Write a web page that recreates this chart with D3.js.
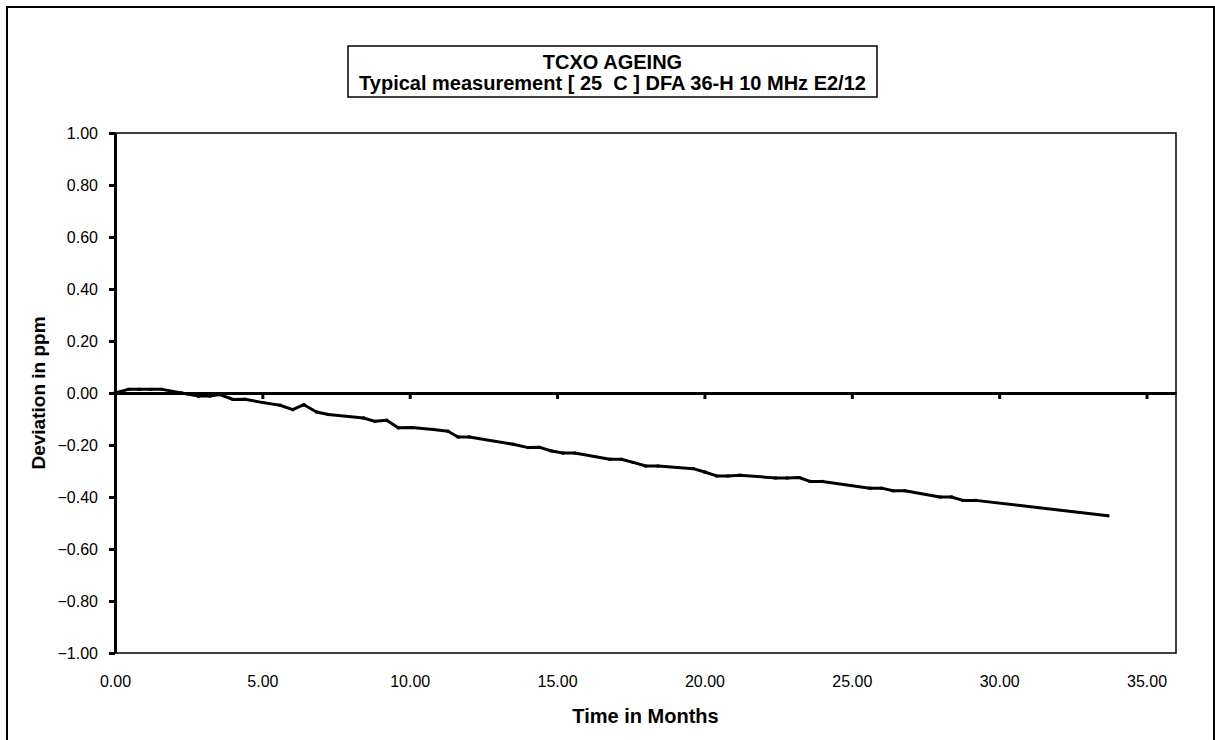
<!DOCTYPE html>
<html>
<head>
<meta charset="utf-8">
<script src="https://cdn.jsdelivr.net/npm/d3@7"></script>
<style>
  html, body { margin: 0; padding: 0; background: #fff; }
  svg { display: block; }
  text { font-family: "Liberation Sans", Arial, sans-serif; fill: #000; }
</style>
</head>
<body>
<svg id="chart" width="1215" height="740"></svg>
<script>
// ---- data ----
const months = [0, 0.45, 0.82, 1.22, 1.6, 2.26, 2.83, 3.22, 3.56, 4.01, 4.41, 5.03, 5.6, 6.03, 6.41, 6.84, 7.24,
  8.43, 8.82, 9.22, 9.61, 10.06, 10.8, 11.3, 11.64, 12.02, 13.51, 14.02, 14.41, 14.81, 15.2, 15.6, 16.79, 17.18,
  17.58, 18.01, 18.43, 19.62, 20.01, 20.41, 20.8, 21.2, 22.42, 22.81, 23.21, 23.58, 24.0, 25.61, 26.01, 26.4,
  26.8, 27.99, 28.38, 28.77, 29.2, 33.69];
const deviation = [0, 0.014, 0.014, 0.014, 0.014, 0, -0.012, -0.012, -0.006, -0.025, -0.024, -0.037, -0.047,
  -0.064, -0.045, -0.073, -0.083, -0.096, -0.109, -0.105, -0.134, -0.133, -0.14, -0.147, -0.169, -0.169, -0.197,
  -0.21, -0.209, -0.223, -0.231, -0.231, -0.255, -0.255, -0.267, -0.281, -0.281, -0.291, -0.304, -0.319, -0.319,
  -0.316, -0.327, -0.327, -0.325, -0.34, -0.34, -0.366, -0.366, -0.376, -0.376, -0.4, -0.4, -0.413, -0.413, -0.472];
const xTicks = [0, 5, 10, 15, 20, 25, 30, 35];
const yTicks = [-1, -0.8, -0.6, -0.4, -0.2, 0, 0.2, 0.4, 0.6, 0.8, 1];
const titleLines = ["TCXO AGEING", "Typical measurement [ 25  C ] DFA 36-H 10 MHz E2/12"];
const xTitle = "Time in Months";
const yTitle = "Deviation in ppm";

const data = months.map((m, i) => ({ x: m, y: deviation[i] }));

const svg = d3.select("#chart");
const plot = { left: 115, right: 1176, top: 133, bottom: 653 };
const FONT = "Liberation Sans, Arial, sans-serif";

// outer chart border
svg.append("rect").attr("x", 7).attr("y", 7).attr("width", 1207).attr("height", 760)
  .attr("fill", "none").attr("stroke", "#000").attr("stroke-width", 2);

const x = d3.scaleLinear().domain([0, 36]).range([plot.left, plot.right]);
const y = d3.scaleLinear().domain([-1, 1]).range([plot.bottom, plot.top]);

// plot area border
svg.append("rect").attr("x", plot.left).attr("y", plot.top)
  .attr("width", plot.right - plot.left).attr("height", plot.bottom - plot.top)
  .attr("fill", "none").attr("stroke", "#000").attr("stroke-width", 1.5);

// x tick labels at the bottom
const xAxisLabels = svg.append("g").attr("transform", `translate(0,${plot.bottom})`)
  .call(d3.axisBottom(x).tickValues(xTicks).tickFormat(d3.format(".2f")).tickSize(0).tickPadding(23));
xAxisLabels.select(".domain").remove();
xAxisLabels.attr("font-size", 16).attr("font-family", FONT);

// x axis crossing at zero with ticks
const xAxisZero = svg.append("g").attr("transform", `translate(0,${y(0)})`)
  .call(d3.axisBottom(x).tickValues(xTicks.filter(d => d > 0)).tickFormat("").tickSizeOuter(0).tickSizeInner(6));
xAxisZero.select(".domain").attr("stroke-width", 3).attr("stroke", "#000");
xAxisZero.selectAll(".tick line").attr("stroke-width", 3).attr("stroke", "#000");

// y axis
const yAxis = svg.append("g").attr("transform", `translate(${plot.left},0)`)
  .call(d3.axisLeft(y).tickValues(yTicks).tickFormat(d3.format(".2f")).tickSizeOuter(0).tickSizeInner(6).tickPadding(11));
yAxis.attr("font-size", 16).attr("font-family", FONT);
yAxis.select(".domain").attr("stroke-width", 3).attr("stroke", "#000");
yAxis.selectAll(".tick line").attr("stroke-width", 3).attr("stroke", "#000");

// data line
const line = d3.line().x(d => x(d.x)).y(d => y(d.y));
svg.append("path").datum(data).attr("d", line)
  .attr("fill", "none").attr("stroke", "#000").attr("stroke-width", 3).attr("stroke-linejoin", "round");
svg.append("g").selectAll("rect").data(data).join("rect")
  .attr("x", d => x(d.x) - 1.5).attr("y", d => y(d.y) - 1.5).attr("width", 3).attr("height", 3).attr("fill", "#000");

// title box
svg.append("rect").attr("x", 348).attr("y", 46).attr("width", 529).attr("height", 51)
  .attr("fill", "#fff").attr("stroke", "#000").attr("stroke-width", 1.5);
const tcx = (348 + 877) / 2;
svg.append("text").attr("x", tcx).attr("y", 69).attr("text-anchor", "middle")
  .attr("font-size", 20).attr("font-weight", "bold").text(titleLines[0]);
svg.append("text").attr("x", tcx).attr("y", 90).attr("text-anchor", "middle")
  .attr("font-size", 20).attr("font-weight", "bold").attr("xml:space", "preserve")
  .style("white-space", "pre").text(titleLines[1]);

// axis titles
svg.append("text").attr("x", (plot.left + plot.right) / 2).attr("y", 723).attr("text-anchor", "middle")
  .attr("font-size", 20).attr("font-weight", "bold").text(xTitle);
svg.append("text").attr("transform", `translate(45,${y(0)}) rotate(-90)`).attr("text-anchor", "middle")
  .attr("font-size", 19).attr("font-weight", "bold").text(yTitle);
</script>
</body>
</html>
